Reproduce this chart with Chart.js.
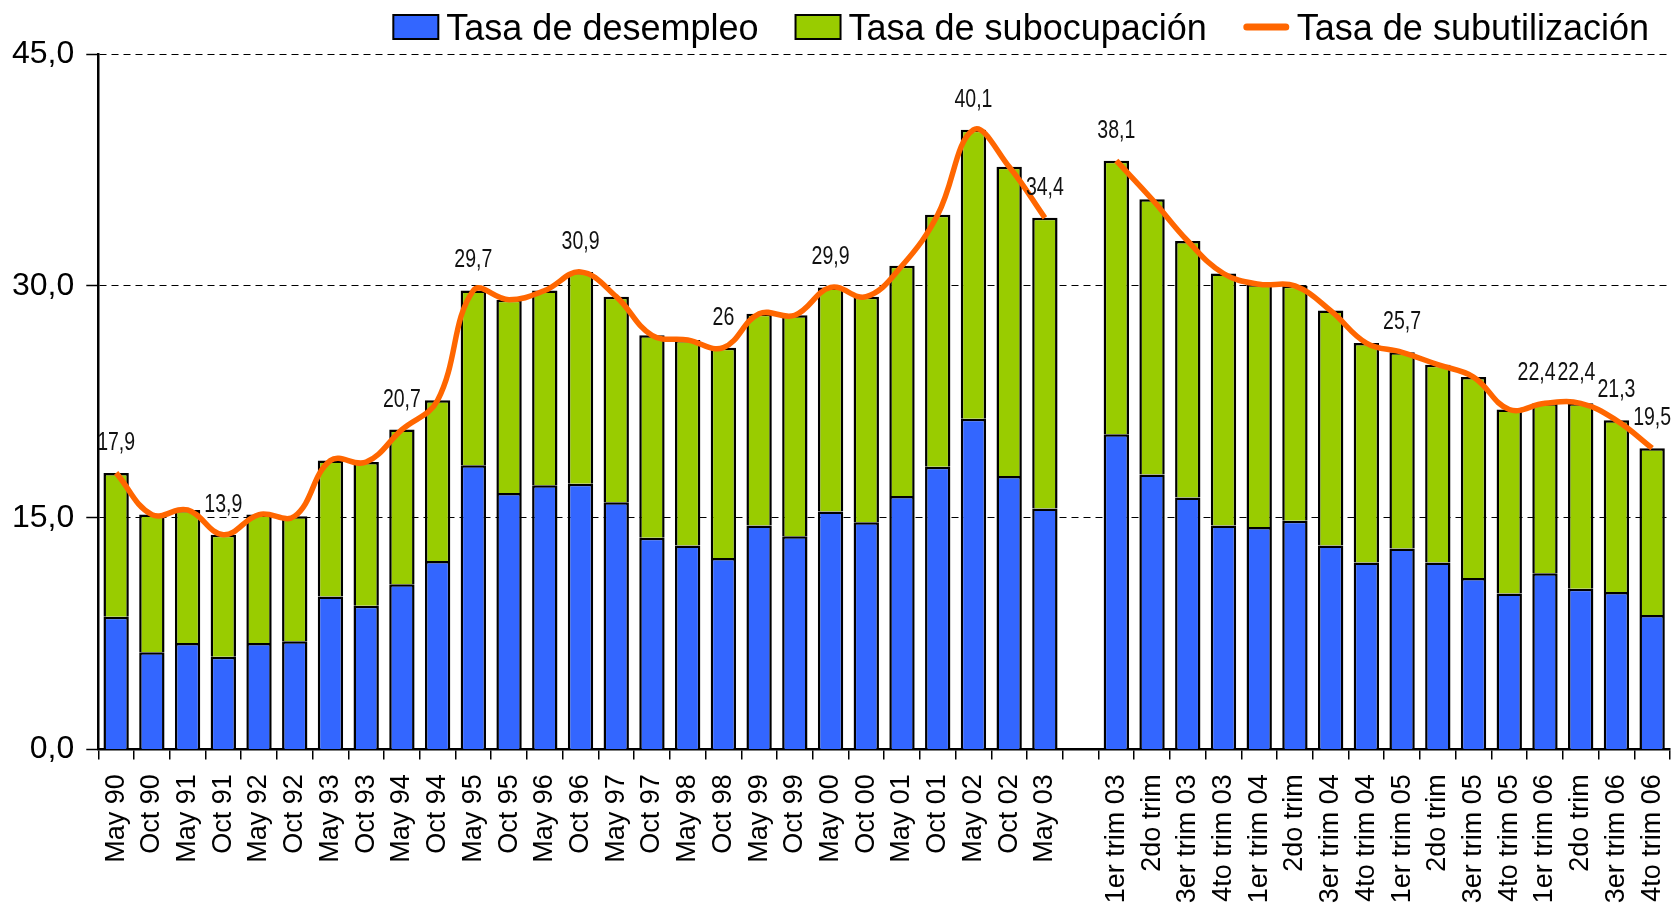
<!DOCTYPE html>
<html>
<head>
<meta charset="utf-8">
<script src="https://cdn.jsdelivr.net/npm/chart.js@4/dist/chart.umd.min.js"></script>
<style>
  html, body { margin: 0; padding: 0; background: #ffffff; }
  #wrap { width: 1673px; height: 905px; position: relative; }
</style>
</head>
<body>
<div id="wrap"><canvas id="c" width="1673" height="905"></canvas></div>
<script>
const categorias = [
  'May 90','Oct 90','May 91','Oct 91','May 92','Oct 92','May 93','Oct 93','May 94','Oct 94',
  'May 95','Oct 95','May 96','Oct 96','May 97','Oct 97','May 98','Oct 98','May 99','Oct 99',
  'May 00','Oct 00','May 01','Oct 01','May 02','Oct 02','May 03','',
  '1er trim 03','2do trim','3er trim 03','4to trim 03','1er trim 04','2do trim','3er trim 04','4to trim 04',
  '1er trim 05','2do trim','3er trim 05','4to trim 05','1er trim 06','2do trim','3er trim 06','4to trim 06'
];

const desempleo = [
  8.6, 6.3, 6.9, 6.0, 6.9, 7.0, 9.9, 9.3, 10.7, 12.2,
  18.4, 16.6, 17.1, 17.2, 16.0, 13.7, 13.2, 12.4, 14.5, 13.8,
  15.4, 14.7, 16.4, 18.3, 21.4, 17.7, 15.6, null,
  20.4, 17.8, 16.3, 14.5, 14.4, 14.8, 13.2, 12.1,
  13.0, 12.1, 11.1, 10.1, 11.4, 10.4, 10.2, 8.7
];

const subocupacion = [
  9.3, 8.9, 8.6, 7.9, 8.3, 8.1, 8.8, 9.3, 10.0, 10.4,
  11.3, 12.5, 12.6, 13.7, 13.3, 13.1, 13.3, 13.6, 13.7, 14.3,
  14.5, 14.6, 14.9, 16.3, 18.7, 20.0, 18.8, null,
  17.7, 17.8, 16.6, 16.3, 15.7, 15.2, 15.2, 14.2,
  12.7, 12.8, 13.0, 11.9, 11.0, 12.0, 11.1, 10.8
];

const subutilizacion = [
  17.9, 15.2, 15.5, 13.9, 15.2, 15.1, 18.7, 18.6, 20.7, 22.6,
  29.7, 29.1, 29.7, 30.9, 29.3, 26.8, 26.5, 26.0, 28.2, 28.1,
  29.9, 29.3, 31.3, 34.6, 40.1, 37.7, 34.4, null,
  38.1, 35.6, 32.9, 30.8, 30.1, 30.0, 28.4, 26.3,
  25.7, 24.9, 24.1, 22.0, 22.4, 22.4, 21.3, 19.5
];

const etiquetas = [
  '17,9', null, null, '13,9', null, null, null, null, '20,7', null,
  '29,7', null, null, '30,9', null, null, null, '26', null, null,
  '29,9', null, null, null, '40,1', null, '34,4', null,
  '38,1', null, null, null, null, null, null, null,
  '25,7', null, null, null, '22,4', '22,4', '21,3', '19,5'
];

const yTicks = [0, 15, 30, 45];

const FONT = "'Liberation Sans', Arial, sans-serif";

const valueLabels = {
  id: 'valueLabels',
  afterDatasetsDraw(chart) {
    const meta = chart.getDatasetMeta(2);
    const ctx = chart.ctx;
    const sx = 0.78;
    ctx.save();
    ctx.font = "25px " + FONT;
    ctx.fillStyle = '#111111';
    ctx.textAlign = 'center';
    ctx.textBaseline = 'alphabetic';
    const items = [];
    meta.data.forEach((pt, i) => {
      const t = etiquetas[i];
      if (!t || subutilizacion[i] == null) return;
      items.push({ t, x: pt.x, y: pt.y - 23, w: ctx.measureText(t).width * sx });
    });
    for (let k = items.length - 2; k >= 0; k--) {
      const a = items[k], b = items[k + 1];
      const overlap = (a.x + a.w / 2) - (b.x - b.w / 2);
      if (overlap > 0 && Math.abs(a.y - b.y) < 20) a.x -= overlap + 2;
    }
    items.forEach((it) => {
      ctx.save();
      ctx.translate(it.x, it.y);
      ctx.scale(sx, 1);
      ctx.fillText(it.t, 0, 0);
      ctx.restore();
    });
    ctx.restore();
  }
};

const customLegend = {
  id: 'customLegend',
  afterDraw(chart) {
    const ctx = chart.ctx;
    const ds = chart.data.datasets;
    ctx.save();
    ctx.font = "36px " + FONT;
    ctx.textBaseline = 'alphabetic';
    ctx.textAlign = 'left';
    const markW = 45, markGap = 8, itemGap = 37, rightEnd = 1649;
    const widths = ds.map(d => markW + markGap + ctx.measureText(d.label).width);
    let x = rightEnd - widths.reduce((s, w) => s + w, 0) - itemGap * (ds.length - 1);
    ds.forEach((d, i) => {
      if (d.type === 'line') {
        ctx.strokeStyle = d.borderColor;
        ctx.lineWidth = 7;
        ctx.lineCap = 'round';
        ctx.beginPath();
        ctx.moveTo(x + 3, 27);
        ctx.lineTo(x + markW - 3, 27);
        ctx.stroke();
      } else {
        ctx.fillStyle = d.backgroundColor;
        ctx.fillRect(x, 15, markW, 24);
        ctx.strokeStyle = '#000000';
        ctx.lineWidth = 2;
        ctx.strokeRect(x, 15, markW, 24);
      }
      ctx.fillStyle = '#000000';
      ctx.fillText(d.label, x + markW + markGap, 40);
      x += widths[i] + itemGap;
    });
    ctx.restore();
  }
};

new Chart(document.getElementById('c'), {
  data: {
    labels: categorias,
    datasets: [
      {
        type: 'bar',
        label: 'Tasa de desempleo',
        data: desempleo,
        backgroundColor: '#3366FF',
        borderColor: '#000000',
        borderWidth: 2.5,
        borderSkipped: 'start',
        stack: 'barras',
        categoryPercentage: 1.0,
        barPercentage: 0.71,
        order: 2
      },
      {
        type: 'bar',
        label: 'Tasa de subocupación',
        data: subocupacion,
        backgroundColor: '#99CC00',
        borderColor: '#000000',
        borderWidth: 2.5,
        borderSkipped: 'start',
        stack: 'barras',
        categoryPercentage: 1.0,
        barPercentage: 0.71,
        order: 2
      },
      {
        type: 'line',
        label: 'Tasa de subutilización',
        data: subutilizacion,
        borderColor: '#FF6600',
        backgroundColor: '#FF6600',
        borderWidth: 5.5,
        pointRadius: 0,
        pointHoverRadius: 0,
        tension: 0.4,
        spanGaps: false,
        fill: false,
        stack: 'linea',
        order: 0
      }
    ]
  },
  options: {
    responsive: false,
    animation: false,
    devicePixelRatio: 1,
    layout: { padding: { left: 0, right: 3, top: 54, bottom: -13 } },
    plugins: {
      tooltip: { enabled: false },
      legend: { display: false }
    },
    scales: {
      x: {
        stacked: true,
        offset: true,
        afterFit(scale) {
          scale.paddingRight = 0;
          scale.paddingLeft = 0;
        },
        grid: {
          display: true,
          offset: true,
          drawOnChartArea: false,
          drawTicks: true,
          tickLength: 10,
          color: '#000000',
          lineWidth: 1.5
        },
        border: { display: true, color: '#000000', width: 2.5 },
        ticks: {
          autoSkip: false,
          maxRotation: 90,
          minRotation: 90,
          padding: 14.7,
          color: '#000000',
          font: { family: FONT, size: 27 }
        }
      },
      y: {
        stacked: true,
        min: 0,
        max: 45,
        afterBuildTicks(scale) {
          scale.ticks = yTicks.map(v => ({ value: v }));
        },
        grid: {
          color: (c) => (c.tick && c.tick.value === 0 ? 'rgba(0,0,0,0)' : '#000000'),
          lineWidth: 1,
          drawTicks: true,
          tickLength: 12,
          tickColor: '#000000',
          tickWidth: 1.5,
          tickBorderDash: []
        },
        border: { display: true, color: '#000000', width: 2.5, dash: [7, 5] },
        ticks: {
          padding: 12,
          color: '#000000',
          font: { family: FONT, size: 32 },
          callback: (v) => Number(v).toFixed(1).replace('.', ',')
        }
      }
    }
  },
  plugins: [valueLabels, customLegend]
});
</script>
</body>
</html>
